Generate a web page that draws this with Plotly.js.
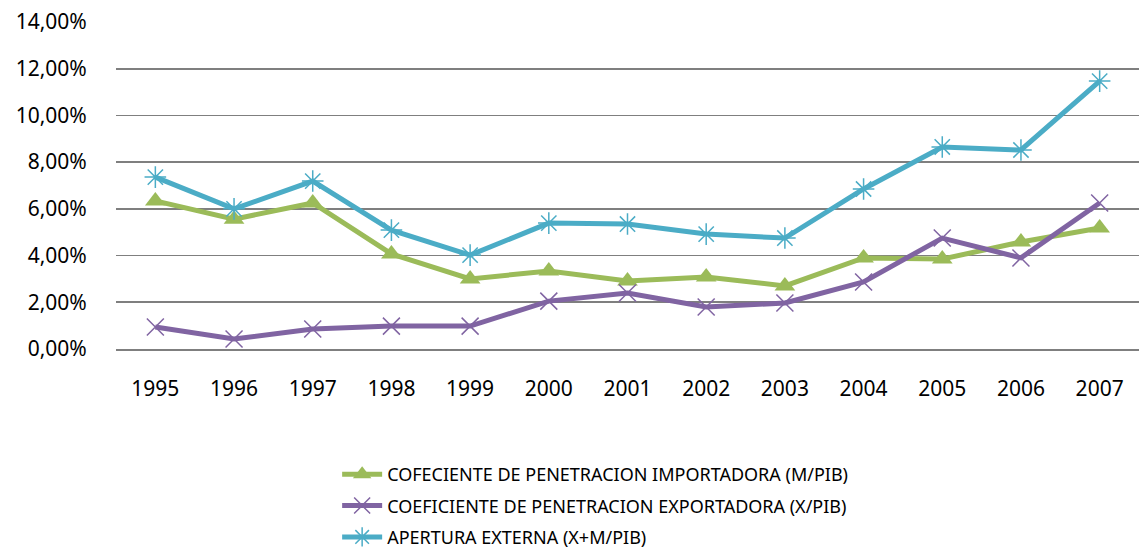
<!DOCTYPE html>
<html>
<head>
<meta charset="utf-8">
<script src="https://cdn.plot.ly/plotly-3.0.1.min.js"></script>
<style>html,body{margin:0;padding:0;background:#fff;}#chart{width:1139px;height:550px;}</style>
</head>
<body>
<div id="chart"></div>
<script>
const years = ["1995","1996","1997","1998","1999","2000","2001","2002","2003","2004","2005","2006","2007"];
const importadora = [6.34,5.56,6.25,4.07,3.00,3.34,2.91,3.08,2.70,3.90,3.85,4.58,5.18];
const exportadora = [0.94,0.43,0.86,0.98,0.98,2.05,2.40,1.80,1.97,2.87,4.75,3.90,6.25];
const apertura = [7.36,6.00,7.19,5.09,4.02,5.39,5.35,4.92,4.75,6.85,8.65,8.52,11.47];
const names = ["COFECIENTE DE PENETRACION IMPORTADORA (M/PIB)","COEFICIENTE DE PENETRACION EXPORTADORA (X/PIB)","APERTURA EXTERNA (X+M/PIB)"];
const yTicks = [0,2,4,6,8,10,12,14];
const yTickText = ["0,00%","2,00%","4,00%","6,00%","8,00%","10,00%","12,00%","14,00%"];

const data = [
  {x: years, y: importadora, name: names[0], legendgroup: 'a', type: 'scatter', mode: 'lines+markers',
   line: {color: '#9BBB59', width: 5}, marker: {symbol: 'triangle-up', size: 18, color: '#9BBB59'}},
  {x: years, y: exportadora, name: names[1], legendgroup: 'b', type: 'scatter', mode: 'lines+markers',
   line: {color: '#8064A2', width: 5}, marker: {symbol: 'x-thin-open', size: 17, color: '#8064A2', line: {color: '#8064A2', width: 1.5}}},
  {x: years, y: apertura, name: names[2], legendgroup: 'c', type: 'scatter', mode: 'lines+markers',
   line: {color: '#4BACC6', width: 5}, marker: {symbol: 'asterisk-open', size: 18, color: '#4BACC6', line: {color: '#4BACC6', width: 1.5}}}
];

const layout = {
  width: 1139, height: 550,
  margin: {l: 116, r: 0, t: 22, b: 201, autoexpand: false},
  paper_bgcolor: '#fff', plot_bgcolor: '#fff',
  font: {family: 'Noto Sans, sans-serif', color: '#000'},
  showlegend: true,
  legend: {xref: 'container', yref: 'container', x: 0.296, y: 0.171, xanchor: 'left', yanchor: 'top',
           orientation: 'v', font: {size: 18, color: '#000'}, tracegroupgap: 5, itemwidth: 40},
  xaxis: {type: 'category', range: [-0.5, 12.5], showgrid: false, zeroline: false,
          showline: true, linecolor: '#7f7f7f', linewidth: 1.8, tickangle: 0,
          ticks: 'outside', ticklen: 20, tickcolor: 'rgba(0,0,0,0)',
          tickfont: {size: 21, color: '#000'}, fixedrange: true},
  yaxis: {range: [0, 14], tickvals: yTicks, ticktext: yTickText, showgrid: true,
          gridcolor: '#7f7f7f', gridwidth: 1.8, zeroline: false, showline: false,
          ticks: 'outside', ticklen: 24, tickcolor: 'rgba(0,0,0,0)',
          tickfont: {size: 21, color: '#000'}, fixedrange: true}
};

Plotly.newPlot('chart', data, layout, {displayModeBar: false, staticPlot: true});
</script>
</body>
</html>
